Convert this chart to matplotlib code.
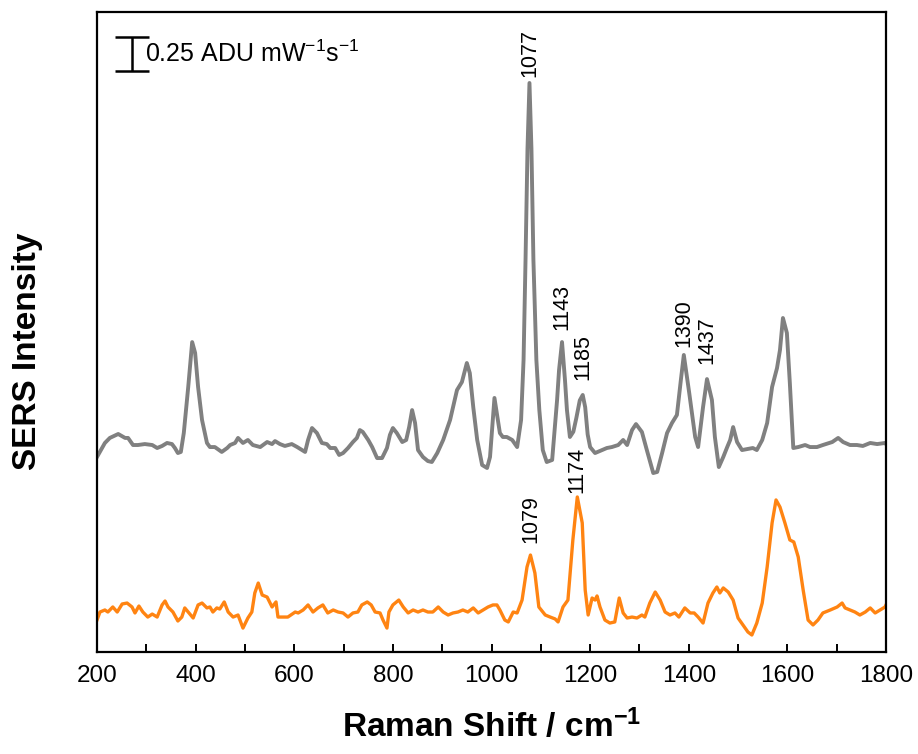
import matplotlib
matplotlib.use("Agg")
import matplotlib.pyplot as plt
from matplotlib.ticker import MultipleLocator

plt.rcParams['font.family'] = ['Liberation Sans', 'DejaVu Sans']
plt.rcParams['mathtext.fontset'] = 'custom'
plt.rcParams['mathtext.rm'] = 'Liberation Sans'
plt.rcParams['mathtext.bf'] = 'Liberation Sans:bold'
plt.rcParams['mathtext.default'] = 'regular'

# Upper spectrum (grey), Raman shift in cm^-1 and intensity in ADU mW^-1 s^-1 (offset)
grey_shift = [200, 216, 226, 243, 257, 263, 273, 283, 297, 312, 322, 332, 342, 352, 358, 364,
              370, 376, 385, 393, 399, 405, 413, 423, 429, 439, 453, 464, 470, 480, 486, 496,
              506, 516, 531, 545, 555, 561, 571, 581, 595, 606, 622, 628, 636, 646, 656, 666,
              673, 683, 691, 699, 709, 719, 727, 733, 739, 750, 758, 768, 778, 788, 794, 800,
              808, 819, 827, 833, 839, 845, 851, 861, 871, 879, 890, 902, 916, 930, 940, 950,
              956, 963, 971, 981, 991, 997, 1006, 1017, 1023, 1031, 1042, 1052, 1060, 1065,
              1069, 1073, 1077, 1081, 1085, 1091, 1097, 1104, 1112, 1123, 1133, 1137, 1143,
              1149, 1153, 1159, 1166, 1172, 1179, 1185, 1190, 1195, 1200, 1210, 1224, 1234,
              1244, 1257, 1267, 1275, 1285, 1293, 1305, 1315, 1328, 1336, 1346, 1356, 1366,
              1376, 1384, 1390, 1401, 1413, 1419, 1429, 1437, 1447, 1453, 1461, 1470, 1478,
              1484, 1490, 1498, 1508, 1520, 1530, 1538, 1549, 1559, 1569, 1579, 1585, 1591,
              1599, 1605, 1612, 1622, 1636, 1646, 1660, 1672, 1691, 1703, 1713, 1727, 1741,
              1753, 1768, 1782, 1798, 1800]
grey_int = [1.434, 1.537, 1.574, 1.603, 1.574, 1.574, 1.522, 1.522, 1.529, 1.522, 1.500, 1.515,
            1.537, 1.529, 1.500, 1.463, 1.471, 1.610, 1.949, 2.279, 2.199, 1.949, 1.706, 1.537,
            1.507, 1.507, 1.471, 1.500, 1.522, 1.537, 1.574, 1.537, 1.559, 1.522, 1.507, 1.544,
            1.529, 1.551, 1.529, 1.515, 1.529, 1.507, 1.471, 1.559, 1.647, 1.610, 1.537, 1.529,
            1.500, 1.500, 1.449, 1.463, 1.500, 1.544, 1.574, 1.632, 1.618, 1.559, 1.507, 1.426,
            1.426, 1.500, 1.596, 1.647, 1.610, 1.544, 1.559, 1.654, 1.779, 1.684, 1.485, 1.434,
            1.404, 1.397, 1.463, 1.559, 1.706, 1.926, 1.985, 2.125, 2.051, 1.801, 1.559, 1.375,
            1.353, 1.434, 1.868, 1.610, 1.581, 1.581, 1.559, 1.507, 1.706, 2.147, 2.882, 3.700,
            4.184, 3.700, 2.882, 2.147, 1.779, 1.485, 1.397, 1.412, 1.853, 2.074, 2.279, 2.000,
            1.779, 1.581, 1.620, 1.720, 1.850, 1.890, 1.800, 1.600, 1.507, 1.463, 1.485, 1.500,
            1.507, 1.522, 1.559, 1.522, 1.632, 1.676, 1.618, 1.485, 1.316, 1.324, 1.463, 1.610,
            1.684, 1.743, 2.000, 2.184, 1.904, 1.581, 1.507, 1.801, 2.007, 1.853, 1.581, 1.360,
            1.434, 1.507, 1.559, 1.654, 1.544, 1.485, 1.493, 1.500, 1.485, 1.559, 1.684, 1.949,
            2.088, 2.221, 2.456, 2.346, 1.978, 1.500, 1.507, 1.522, 1.507, 1.507, 1.522, 1.544,
            1.574, 1.544, 1.522, 1.522, 1.515, 1.537, 1.529, 1.537, 1.529]

# Lower spectrum (orange)
orange_shift = [200, 206, 216, 222, 232, 241, 251, 261, 271, 277, 285, 293, 303, 312, 322, 332,
                338, 344, 354, 364, 372, 378, 385, 395, 405, 413, 423, 429, 435, 443, 449, 458,
                466, 476, 486, 496, 506, 514, 520, 527, 535, 545, 555, 563, 567, 577, 587, 602,
                608, 618, 628, 638, 648, 658, 668, 679, 689, 699, 709, 719, 729, 737, 748, 756,
                764, 774, 780, 788, 792, 800, 812, 821, 831, 841, 851, 861, 871, 881, 892, 902,
                912, 922, 932, 942, 952, 963, 973, 983, 993, 1003, 1011, 1017, 1027, 1034, 1044,
                1052, 1062, 1072, 1079, 1088, 1096, 1109, 1119, 1129, 1135, 1145, 1155, 1165,
                1174, 1184, 1190, 1196, 1204, 1210, 1214, 1220, 1230, 1240, 1250, 1259, 1267,
                1275, 1285, 1295, 1305, 1311, 1321, 1332, 1342, 1352, 1362, 1372, 1380, 1392,
                1403, 1411, 1419, 1429, 1439, 1449, 1457, 1463, 1470, 1480, 1490, 1500, 1510,
                1520, 1528, 1538, 1549, 1559, 1569, 1577, 1585, 1595, 1605, 1613, 1622, 1632,
                1642, 1652, 1662, 1672, 1687, 1701, 1711, 1717, 1727, 1737, 1747, 1758, 1768,
                1778, 1788, 1798, 1800]
orange_int = [0.235, 0.294, 0.309, 0.294, 0.331, 0.294, 0.353, 0.360, 0.331, 0.287, 0.338, 0.294,
              0.257, 0.279, 0.257, 0.346, 0.375, 0.331, 0.294, 0.228, 0.257, 0.324, 0.294, 0.250,
              0.346, 0.360, 0.324, 0.331, 0.294, 0.324, 0.316, 0.368, 0.294, 0.257, 0.272, 0.176,
              0.250, 0.294, 0.434, 0.507, 0.419, 0.404, 0.331, 0.368, 0.257, 0.257, 0.257, 0.294,
              0.287, 0.309, 0.346, 0.294, 0.324, 0.346, 0.287, 0.309, 0.294, 0.287, 0.257, 0.287,
              0.294, 0.346, 0.368, 0.346, 0.294, 0.287, 0.235, 0.176, 0.294, 0.346, 0.382, 0.331,
              0.287, 0.309, 0.294, 0.309, 0.294, 0.294, 0.331, 0.294, 0.272, 0.287, 0.294, 0.309,
              0.294, 0.324, 0.287, 0.309, 0.331, 0.346, 0.346, 0.309, 0.235, 0.221, 0.294, 0.287,
              0.382, 0.625, 0.713, 0.581, 0.331, 0.272, 0.257, 0.243, 0.221, 0.331, 0.382, 0.824,
              1.140, 0.949, 0.456, 0.272, 0.397, 0.382, 0.412, 0.331, 0.235, 0.213, 0.221, 0.397,
              0.287, 0.250, 0.257, 0.250, 0.272, 0.257, 0.360, 0.441, 0.382, 0.294, 0.272, 0.287,
              0.257, 0.324, 0.287, 0.287, 0.257, 0.213, 0.360, 0.434, 0.478, 0.434, 0.471, 0.441,
              0.382, 0.250, 0.199, 0.147, 0.125, 0.213, 0.360, 0.625, 0.949, 1.118, 1.066, 0.949,
              0.824, 0.809, 0.699, 0.456, 0.235, 0.199, 0.235, 0.287, 0.309, 0.331, 0.360, 0.324,
              0.309, 0.294, 0.272, 0.294, 0.324, 0.287, 0.309, 0.331, 0.346]

# Labelled bands
grey_peaks = [1077, 1143, 1185, 1390, 1437]
grey_peak_int = [4.184, 2.279, 1.890, 2.184, 2.007]
grey_label_gap = [4, 9, 11, 6, 11]
orange_peaks = [1079, 1174]
orange_peak_int = [0.713, 1.140]
orange_label_gap = [9, 3]

x_ticks = [200, 400, 600, 800, 1000, 1200, 1400, 1600, 1800]
scale_bar = 0.25
scale_bar_top = 4.522
scale_bar_x = 271
scale_text = '0.25 ADU mW$^{-1}$s$^{-1}$'

GREY = '#808080'
ORANGE = '#FF8412'

fig = plt.figure(figsize=(9.18, 7.54), dpi=100)
ax = fig.add_axes([97 / 918, 102 / 754, 789 / 918, 640 / 754])

ax.plot(grey_shift, grey_int, color=GREY, lw=2.8, solid_joinstyle='round')
ax.plot(orange_shift, orange_int, color=ORANGE, lw=2.4, solid_joinstyle='round')

for xp, yp, gap in zip(grey_peaks, grey_peak_int, grey_label_gap):
    ax.annotate(str(xp), xy=(xp, yp), xytext=(0, gap), textcoords='offset points',
                rotation=90, ha='center', va='bottom', fontsize=15.5)
for xp, yp, gap in zip(orange_peaks, orange_peak_int, orange_label_gap):
    ax.annotate(str(xp), xy=(xp, yp), xytext=(0, gap), textcoords='offset points',
                rotation=90, ha='center', va='bottom', fontsize=15.5)

# intensity scale bar
ax.errorbar([scale_bar_x], [scale_bar_top - scale_bar / 2], yerr=[scale_bar / 2],
            color='black', lw=1.8, capsize=12, capthick=1.8)
ax.annotate(scale_text, xy=(scale_bar_x, scale_bar_top - scale_bar / 2),
            xytext=(9, 0), textcoords='offset points', ha='left', va='center', fontsize=18)

ax.set_xlim(200, 1800)
ax.set_ylim(0, 4.706)
ax.set_xticks(x_ticks)
ax.xaxis.set_minor_locator(MultipleLocator(100))
ax.set_yticks([])
ax.tick_params(axis='x', which='both', direction='in', length=6, width=1.4,
               labelsize=17.5, pad=9)
for sp in ax.spines.values():
    sp.set_linewidth(1.6)

ax.set_xlabel('Raman Shift / cm$^{-1}$', fontsize=24, fontweight='bold', labelpad=16)
ax.set_ylabel('SERS Intensity', fontsize=24, fontweight='bold')
ax.yaxis.set_label_coords(-0.069, 0.47)

fig.savefig('out.png', dpi=100)
